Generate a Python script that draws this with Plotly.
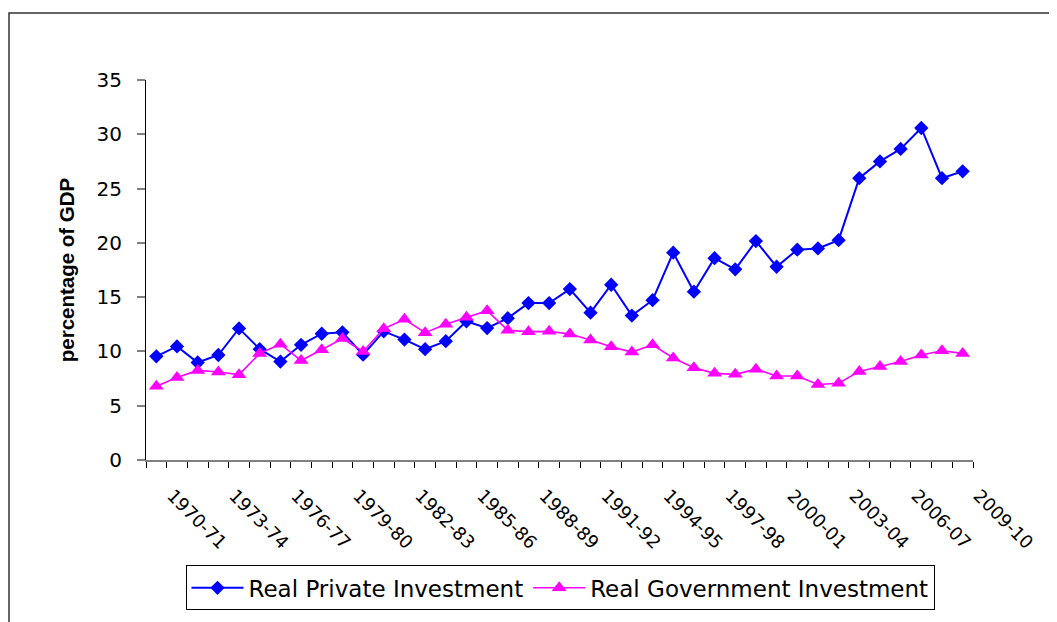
import plotly.graph_objects as go

years = [f"{y}-{str(y + 1)[-2:]}" for y in range(1970, 2010)]

private_inv = [9.55, 10.46, 8.98, 9.67, 12.12, 10.21, 9.07, 10.61, 11.63, 11.76,
               9.70, 11.85, 11.09, 10.21, 10.94, 12.78, 12.15, 13.06, 14.45, 14.45,
               15.74, 13.57, 16.14, 13.30, 14.72, 19.10, 15.50, 18.59, 17.56, 20.16,
               17.80, 19.37, 19.49, 20.25, 25.96, 27.50, 28.65, 30.58, 25.96, 26.59]

govt_inv = [6.80, 7.59, 8.25, 8.10, 7.86, 9.82, 10.67, 9.16, 10.15, 11.18,
            10.00, 12.09, 12.96, 11.73, 12.51, 13.15, 13.75, 11.94, 11.82, 11.85,
            11.60, 11.06, 10.43, 9.94, 10.61, 9.40, 8.49, 7.98, 7.89, 8.37,
            7.74, 7.74, 6.95, 7.07, 8.16, 8.61, 9.07, 9.67, 10.06, 9.82]

y_ticks = [0, 5, 10, 15, 20, 25, 30, 35]

idx = list(range(len(years)))
label_idx = idx[::3]
label_txt = [years[i] for i in label_idx]
boundaries = [i - 0.5 for i in range(len(years) + 1)]

fig = go.Figure()
fig.add_trace(go.Scatter(
    x=idx, y=private_inv, name="Real Private Investment", mode="lines+markers",
    line=dict(color="#0000FF", width=2),
    marker=dict(symbol="diamond", size=11, color="#0000FF"),
))
fig.add_trace(go.Scatter(
    x=idx, y=govt_inv, name="Real Government Investment", mode="lines+markers",
    line=dict(color="#FF00FF", width=1.6),
    marker=dict(symbol="triangle-up", size=13, color="#FF00FF"),
))

# page body has an 8px margin; figure is sized to fit inside the window
OFF = 8
W, H = 1057 - OFF, 622 - OFF
L, R, T, B = 146 - OFF, 84, 80 - OFF, 156
pw, ph = W - L - R, H - T - B

def px_x(x):
    return (x - OFF - L) / pw

def px_y(y):
    return (H - B - (y - OFF)) / ph

fig.add_shape(type="rect", xref="paper", yref="paper",
              x0=px_x(9), x1=px_x(1075), y0=px_y(660), y1=px_y(12),
              line=dict(color="#333333", width=1.5), fillcolor="rgba(0,0,0,0)", layer="below")

fig.update_layout(
    width=W, height=H,
    margin=dict(l=L, r=R, t=T, b=B),
    paper_bgcolor="white", plot_bgcolor="white",
    font=dict(family="DejaVu Sans", color="black"),
    showlegend=True,
    legend=dict(
        orientation="h", x=px_x(560), xanchor="center", y=px_y(573), yanchor="top",
        bordercolor="black", borderwidth=1, bgcolor="white",
        font=dict(family="DejaVu Sans", size=23, color="black"),
        itemwidth=52, tracegroupgap=0,
    ),
    xaxis=dict(
        range=[-0.5, len(years) - 0.5],
        tickmode="array", tickvals=label_idx, ticktext=label_txt,
        ticks="", tickangle=45,
        tickfont=dict(family="DejaVu Sans", size=18, color="black"),
        ticklabelstandoff=16, ticklabelshift=16,
        showline=True, linecolor="#808080", linewidth=2,
        showgrid=False, zeroline=False,
        minor=dict(tickmode="array", tickvals=boundaries, ticks="outside",
                   ticklen=6, tickcolor="black", tickwidth=1, showgrid=False),
    ),
    yaxis=dict(
        range=[0, 35], tickmode="array", tickvals=y_ticks,
        ticks="outside", ticklen=8, tickcolor="#808080", tickwidth=1.5,
        tickfont=dict(family="DejaVu Sans", size=20, color="black"),
        ticklabelstandoff=11,
        showline=True, linecolor="black", linewidth=1,
        showgrid=False, zeroline=False,
        title=dict(text="<b>percentage of GDP</b>", standoff=16,
                   font=dict(family="Liberation Sans", size=20.5, color="black")),
    ),
)

fig.write_html("out.html")
